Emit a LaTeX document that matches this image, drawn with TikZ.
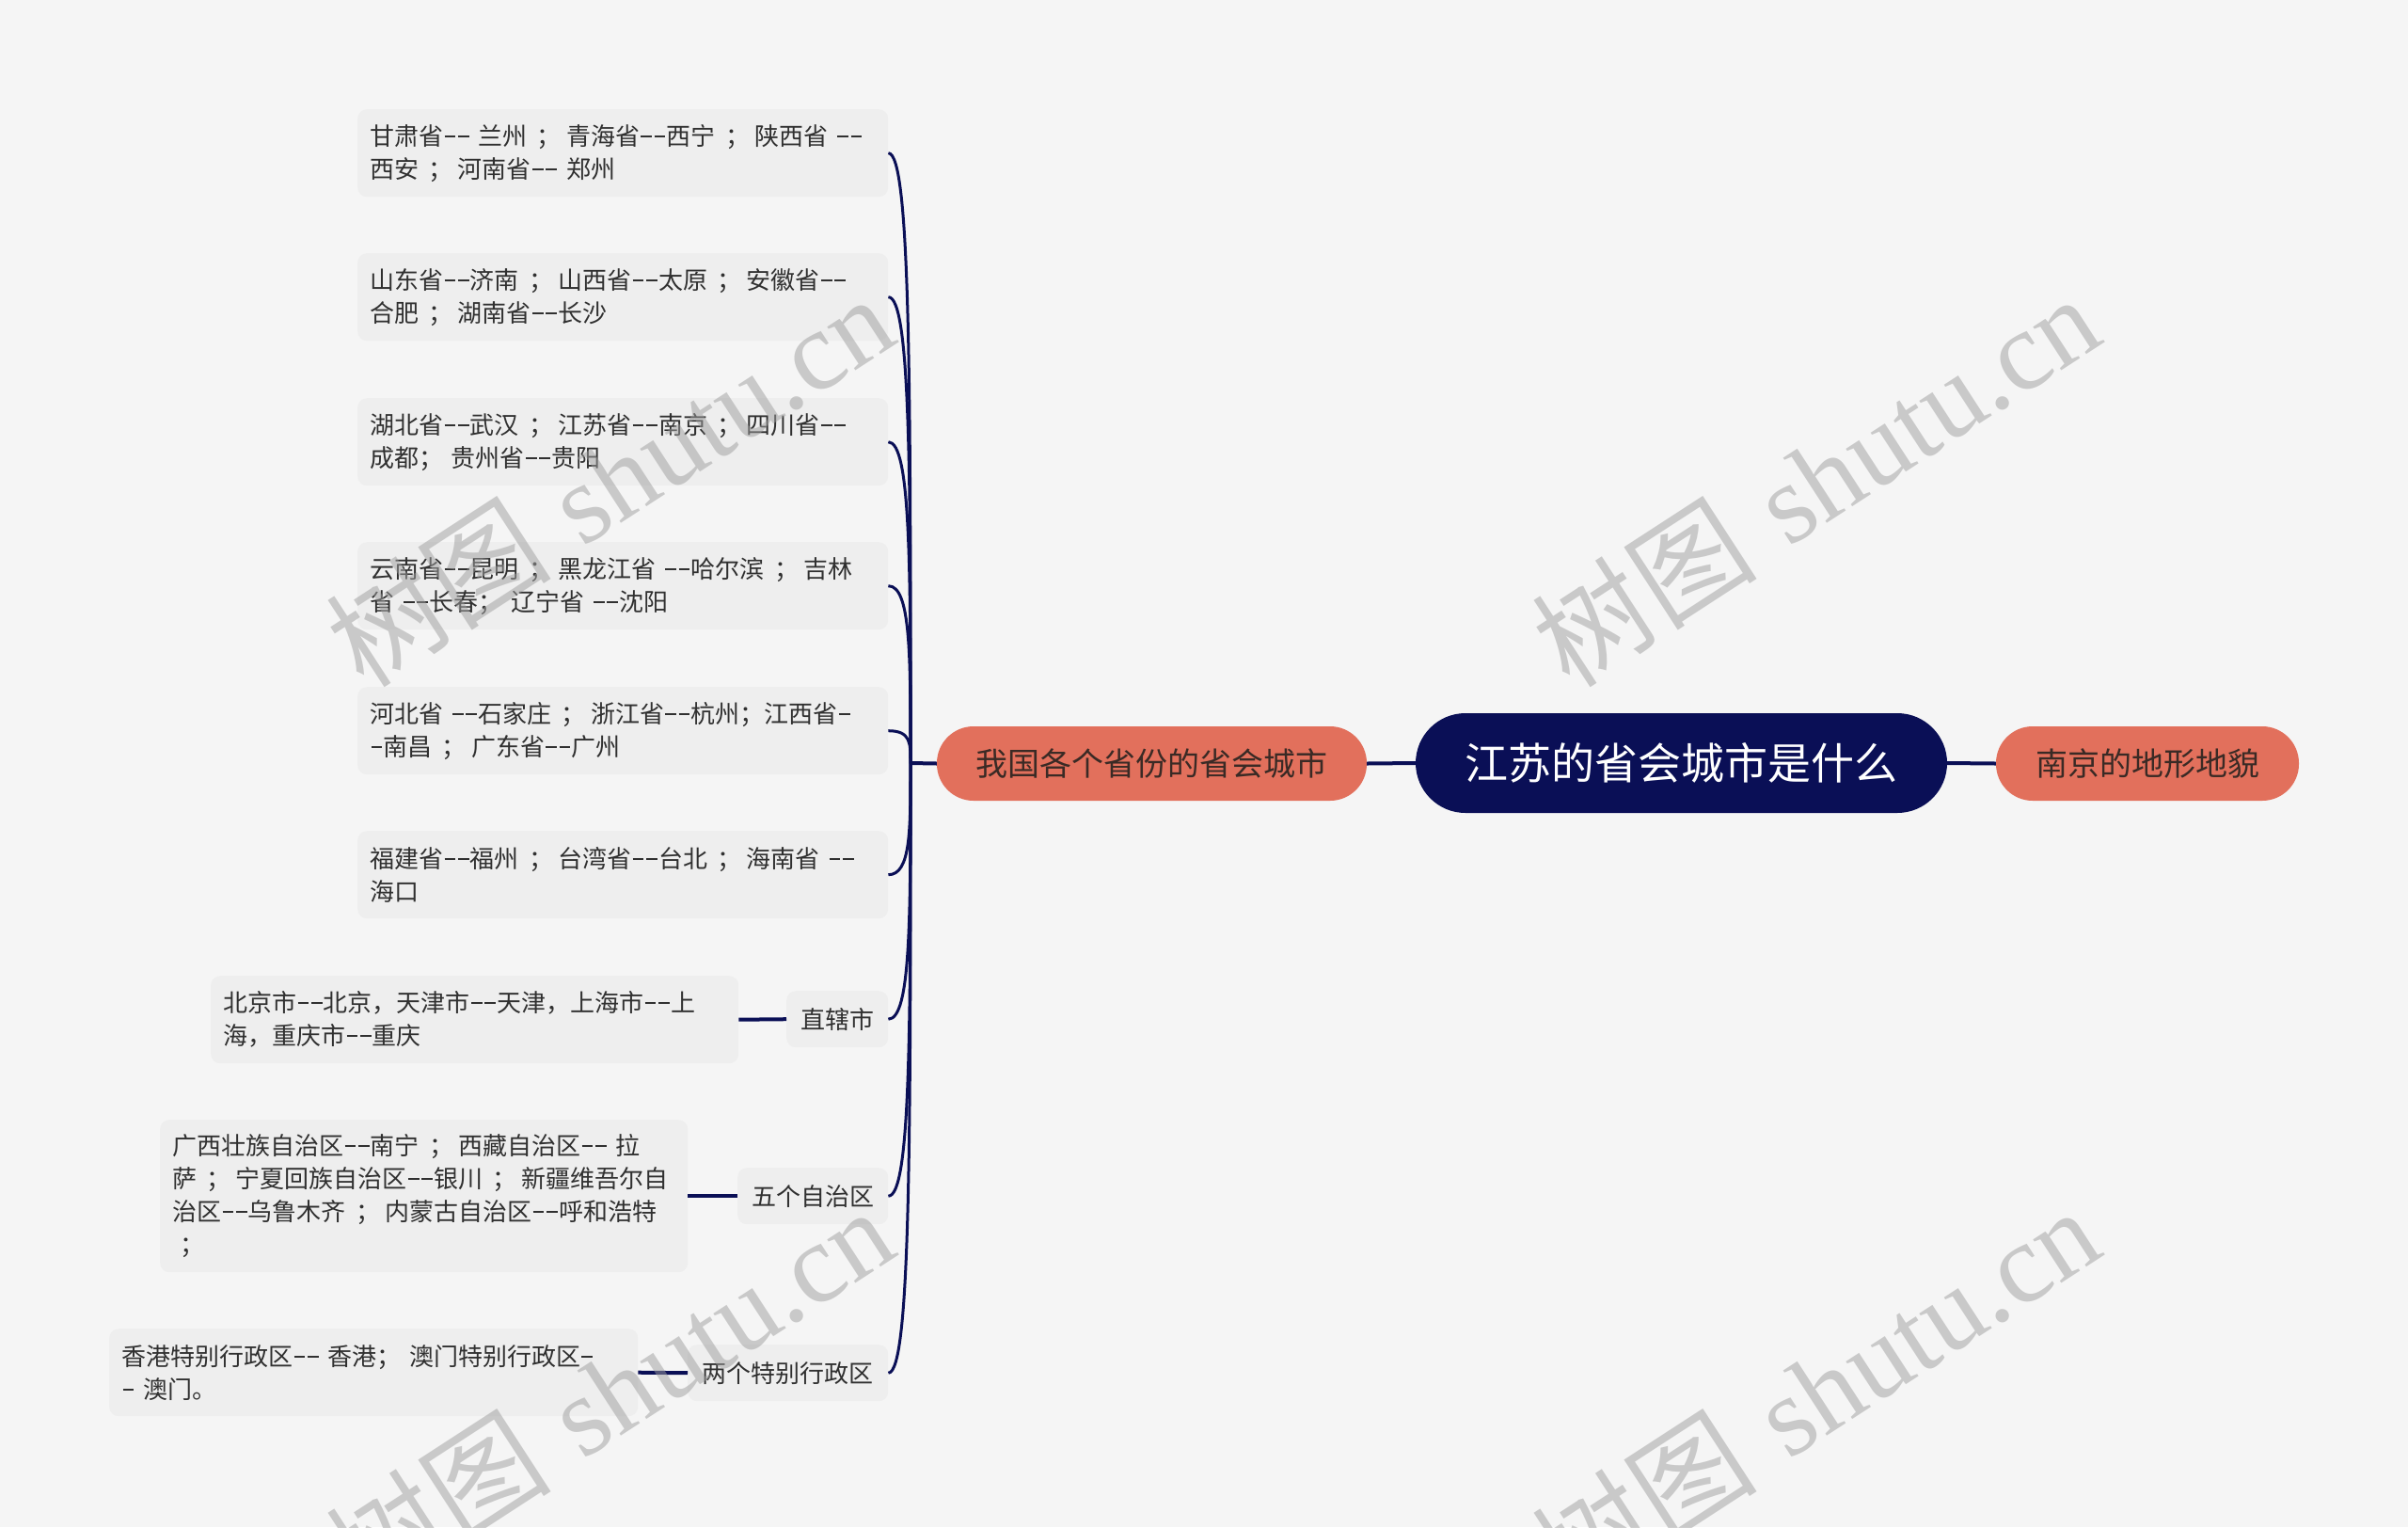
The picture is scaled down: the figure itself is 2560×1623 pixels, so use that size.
\documentclass[tikz,border=0pt]{standalone}
\usepackage{fontspec}
\newfontfamily\cjk{Noto Sans CJK SC}
\newfontfamily\wmlatin{Liberation Serif}
\usetikzlibrary{calc}
\definecolor{bgc}{HTML}{F5F5F5}
\definecolor{leafbg}{HTML}{EEEEEE}
\definecolor{leaftxt}{HTML}{303030}
\definecolor{navy}{HTML}{0A0F56}
\definecolor{salmon}{HTML}{E2705C}
\definecolor{brtxt}{HTML}{3A2A25}
\definecolor{wmgray}{HTML}{9E9E9E}
\newcommand\lline[1]{\mbox{#1}}
% wide hyphen as drawn in the reference
\newcommand\hy{\makebox[0.55em][c]{\rule[0.33em]{0.45em}{0.07em}}}
% spaced full-width semicolon
\newcommand\sm{\hspace{0.4em}；\hspace{0.2em}}
\begin{document}
\begin{tikzpicture}[x=1pt,y=-1pt,
  leaf/.style={fill=leafbg, rounded corners=10pt, anchor=north west, minimum height=93pt,
    text width=#1, inner xsep=13pt, inner ysep=0pt, align=left,
    font=\cjk\fontsize{26}{35}\selectfont, text=leaftxt},
  leaf/.default=538pt,
  sub/.style={fill=leafbg, rounded corners=10pt, anchor=north west, minimum height=60pt,
    minimum width=#1, inner xsep=0pt, inner ysep=0pt,
    font=\cjk\fontsize{26}{30}\selectfont, text=leaftxt},
  rootbox/.style={fill=navy, rounded corners=53pt, minimum width=565pt, minimum height=106pt,
    inner sep=0pt, font=\cjk\fontsize{46}{50}\selectfont, text=white},
  branch/.style={fill=salmon, rounded corners=39pt, minimum width=#1, minimum height=79pt,
    inner sep=0pt, font=\cjk\fontsize{34}{38}\selectfont, text=brtxt},
  conn/.style={draw=navy, line width=4pt},
  curve/.style={draw=navy, line width=3pt},
  wm/.style={text=wmgray, opacity=0.5, text opacity=0.5, inner sep=0pt, rotate=33,
    font=\fontsize{120}{120}\selectfont}
]
\useasboundingbox (0,0) rectangle (2560,1623);
\fill[bgc] (0,0) rectangle (2560,1623);

% central and branch nodes
\node[rootbox] (R) at (1787.5,811) {江苏的省会城市是什么};
\node[branch=457pt] (L) at (1224.5,811.5) {我国各个省份的省会城市};
\node[branch=322pt] (RB) at (2283,811.5) {南京的地形地貌};
\coordinate (hub) at (968,811);

% leaves
\node[leaf] (l1) at (380,116) {\lline{甘肃省\hy\hy{} 兰州\sm 青海省\hy\hy 西宁\sm 陕西省 \hy\hy}\\\lline{西安\sm 河南省\hy\hy{} 郑州}};
\node[leaf] (l2) at (380,269) {\lline{山东省\hy\hy 济南\sm 山西省\hy\hy 太原\sm 安徽省\hy\hy}\\\lline{合肥\sm 湖南省\hy\hy 长沙}};
\node[leaf] (l3) at (380,423) {\lline{湖北省\hy\hy 武汉\sm 江苏省\hy\hy 南京\sm 四川省\hy\hy}\\\lline{成都； 贵州省\hy\hy 贵阳}};
\node[leaf] (l4) at (380,576) {\lline{云南省\hy\hy 昆明\sm 黑龙江省 \hy\hy 哈尔滨\sm 吉林}\\\lline{省 \hy\hy 长春； 辽宁省 \hy\hy 沈阳}};
\node[leaf] (l5) at (380,730) {\lline{河北省 \hy\hy 石家庄\sm 浙江省\hy\hy 杭州；江西省\hy}\\\lline{\hy 南昌\sm 广东省\hy\hy 广州}};
\node[leaf] (l6) at (380,883) {\lline{福建省\hy\hy 福州\sm 台湾省\hy\hy 台北\sm 海南省 \hy\hy}\\\lline{海口}};

% sub branches
\node[sub=108pt] (s1) at (836,1053) {直辖市};
\node[sub=160pt] (s2) at (784,1241) {五个自治区};
\node[sub=213pt] (s3) at (731,1429) {两个特别行政区};

\node[leaf=535pt] (c1) at (224,1037) {\lline{北京市\hy\hy 北京，天津市\hy\hy 天津，上海市\hy\hy 上}\\\lline{海，重庆市\hy\hy 重庆}};
\node[leaf=535pt, minimum height=162pt] (c2) at (170,1190) {\lline{广西壮族自治区\hy\hy 南宁\sm 西藏自治区\hy\hy{} 拉}\\\lline{萨\sm 宁夏回族自治区\hy\hy 银川\sm 新疆维吾尔自}\\\lline{治区\hy\hy 乌鲁木齐\sm 内蒙古自治区\hy\hy 呼和浩特}\\\lline{\hspace{0.3em}；}};
\node[leaf=536pt] (c3) at (116,1412) {\lline{香港特别行政区\hy\hy{} 香港； 澳门特别行政区\hy}\\\lline{\hy{} 澳门。}};

% connectors
\draw[conn] (R.west) -- (L.east);
\draw[conn] (R.east) -- (RB.west);
\draw[conn] (L.west) -- (hub);
\draw[curve] (l1.east) .. controls +(24,0) and +(0,-389) .. (hub);
\draw[curve] (l2.east) .. controls +(24,0) and +(0,-298) .. (hub);
\draw[curve] (l3.east) .. controls +(24,0) and +(0,-205) .. (hub);
\draw[curve] (l4.east) .. controls +(24,0) and +(0,-113) .. (hub);
\draw[curve] (l5.east) .. controls +(24,0) and +(0,-21) .. (hub);
\draw[curve] (l6.east) .. controls +(24,0) and +(0,71) .. (hub);
\draw[curve] (s1.east) .. controls +(24,0) and +(0,163) .. (hub);
\draw[curve] (s2.east) .. controls +(24,0) and +(0,276) .. (hub);
\draw[curve] (s3.east) .. controls +(24,0) and +(0,389) .. (hub);
\draw[conn] (c1.east) -- (s1.west);
\draw[conn] (c2.east) -- (s2.west);
\draw[conn] (c3.east) -- (s3.west);

% watermarks
\node[wm] (w1) at (648,510) {{\cjk 树图} {\wmlatin shutu.cn}};
\node[wm] (w2) at (1930,510) {{\cjk 树图} {\wmlatin shutu.cn}};
\node[wm] (w3) at (648,1480) {{\cjk 树图} {\wmlatin shutu.cn}};
\node[wm] (w4) at (1930,1480) {{\cjk 树图} {\wmlatin shutu.cn}};
\end{tikzpicture}
\end{document}
